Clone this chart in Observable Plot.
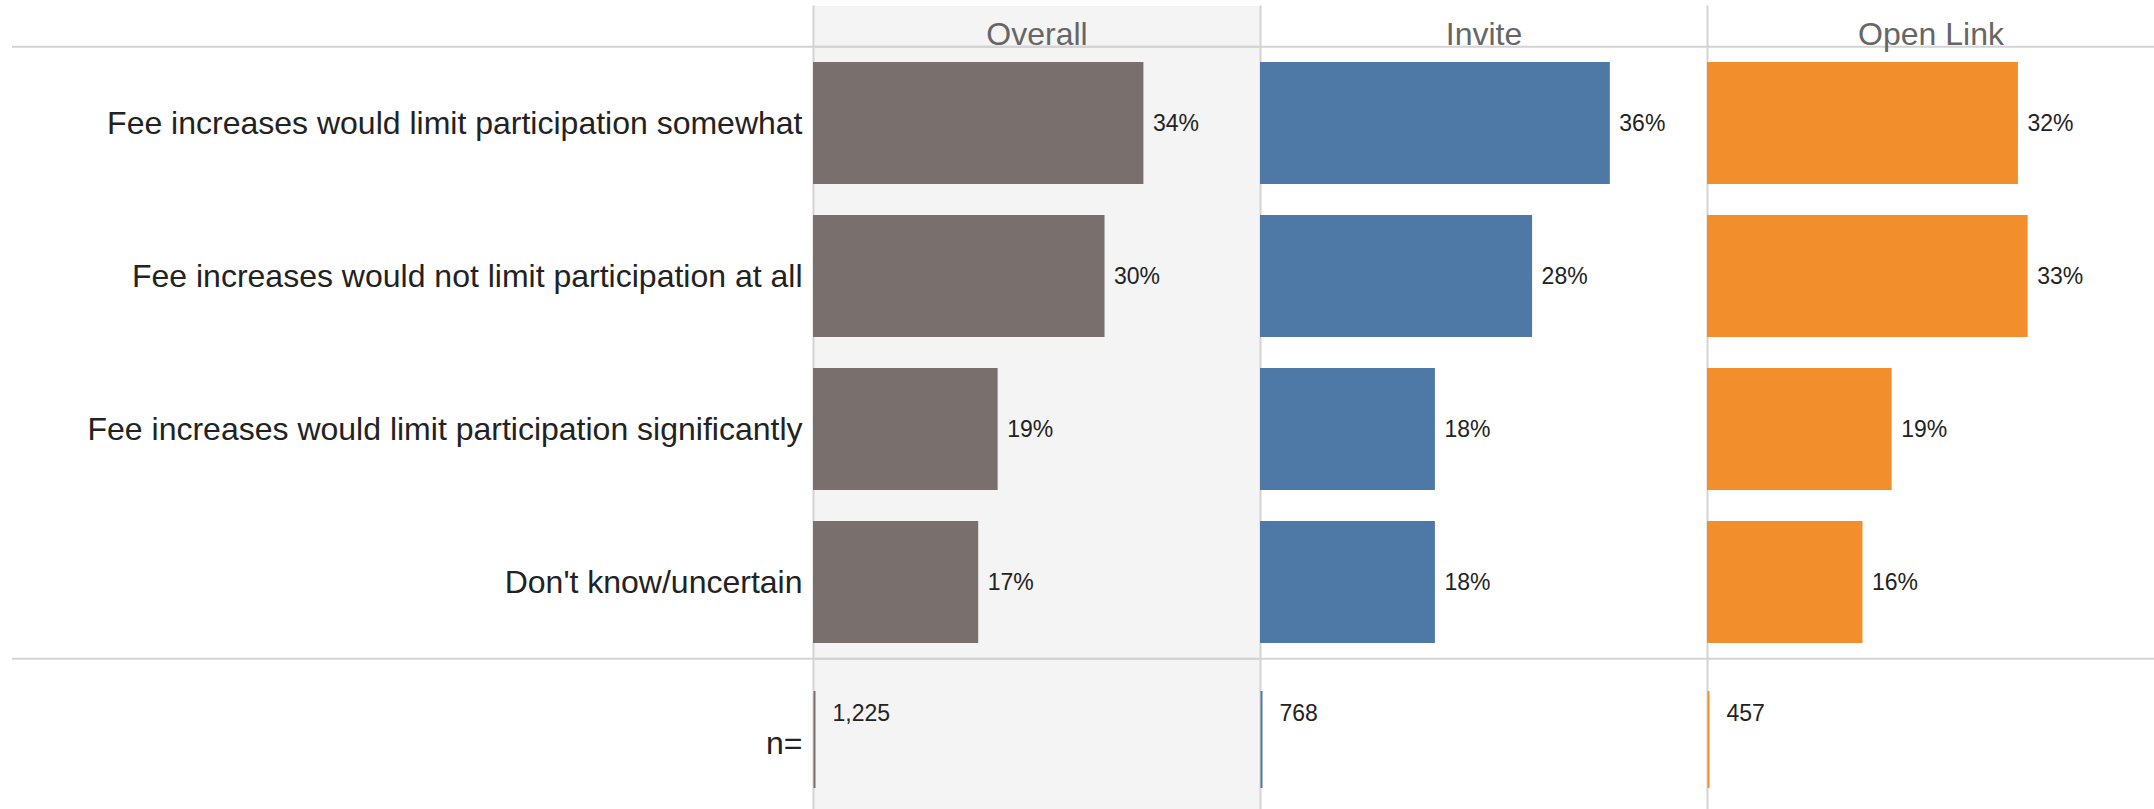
<!DOCTYPE html>
<html><head><meta charset="utf-8">
<script src="https://cdn.jsdelivr.net/npm/d3@7"></script>
<script src="https://cdn.jsdelivr.net/npm/@observablehq/plot@0.6"></script>
<style>body{margin:0;background:#fff;}</style>
</head><body><div id="chart"></div>
<script>
const panels = ["Overall", "Invite", "Open Link"];
const categories = [
  "Fee increases would limit participation somewhat",
  "Fee increases would not limit participation at all",
  "Fee increases would limit participation significantly",
  "Don't know/uncertain"
];
const nLabel = "n=";
const overallPct = [34, 30, 19, 17];
const invitePct = [36, 28, 18, 18];
const openLinkPct = [32, 33, 19, 16];
const sampleSizes = [1225, 768, 457];
const panelColors = ["#79706e", "#4e79a7", "#f28e2b"];

const seriesByPanel = [overallPct, invitePct, openLinkPct];
const bars = panels.flatMap((p, i) => categories.map((c, j) => ({panel: p, category: c, value: seriesByPanel[i][j]})));
const nData = panels.map((p, i) => ({panel: p, n: sampleSizes[i]}));

const W = 2154, H = 809, TOP = 46, STEP = 153.3;
const FONT = "'Liberation Sans', Arial, Helvetica, sans-serif";

const chart = Plot.plot({
  width: W, height: H,
  marginTop: TOP, marginBottom: 0, marginLeft: 812, marginRight: 0,
  style: {fontFamily: FONT, background: "white"},
  fx: {domain: panels, padding: 0, axis: null},
  x: {domain: [0, 46], axis: null},
  y: {type: "band", domain: [...categories, nLabel], range: [TOP, TOP + STEP * 5], paddingInner: 0.2, paddingOuter: 0.1},
  color: {domain: panels, range: panelColors},
  marks: [
    Plot.rect([panels[0]], {fx: d => d, fill: "#f4f4f4", insetTop: -40}),
    Plot.frame({anchor: "left", stroke: "#d3d3d3", strokeWidth: 2, insetTop: -40}),
    Plot.ruleY([categories[0], nLabel], {y: d => d, dy: -STEP / 2, stroke: "#d3d3d3", strokeWidth: 2}),
    Plot.ruleY([categories[0], nLabel], {y: d => d, fx: () => panels[0], dy: -STEP / 2, stroke: "#d3d3d3", strokeWidth: 2, insetLeft: -801}),
    Plot.barX(bars, {x: "value", y: "category", fx: "panel", fill: "panel"}),
    Plot.text(bars, {x: "value", y: "category", fx: "panel", text: d => d.value + "%", textAnchor: "start", dx: 9, fontSize: 23, fill: "#222"}),
    Plot.tickX(nData, {x: () => 0, y: () => nLabel, fx: "panel", stroke: "panel", strokeWidth: 2, dx: 1, insetTop: 17, insetBottom: 8}),
    Plot.text(nData, {y: () => nLabel, fx: "panel", frameAnchor: "left", text: d => d3.format(",")(d.n), dx: 19, dy: -22, textAnchor: "start", fontSize: 23, fill: "#222"}),
    Plot.text(panels, {fx: d => d, text: d => d, frameAnchor: "top", lineAnchor: "bottom", dy: -2, fontSize: 32, fill: "#666"}),
    Plot.axisY(categories, {anchor: "left", tickSize: 0, tickPadding: 11, fontSize: 32, fill: "#222", label: null}),
    Plot.text([nLabel], {y: d => d, fx: () => panels[0], frameAnchor: "left", textAnchor: "end", dx: -11, dy: 8, fontSize: 32, fill: "#222"})
  ]
});
document.getElementById("chart").appendChild(chart);
</script>
</body></html>
